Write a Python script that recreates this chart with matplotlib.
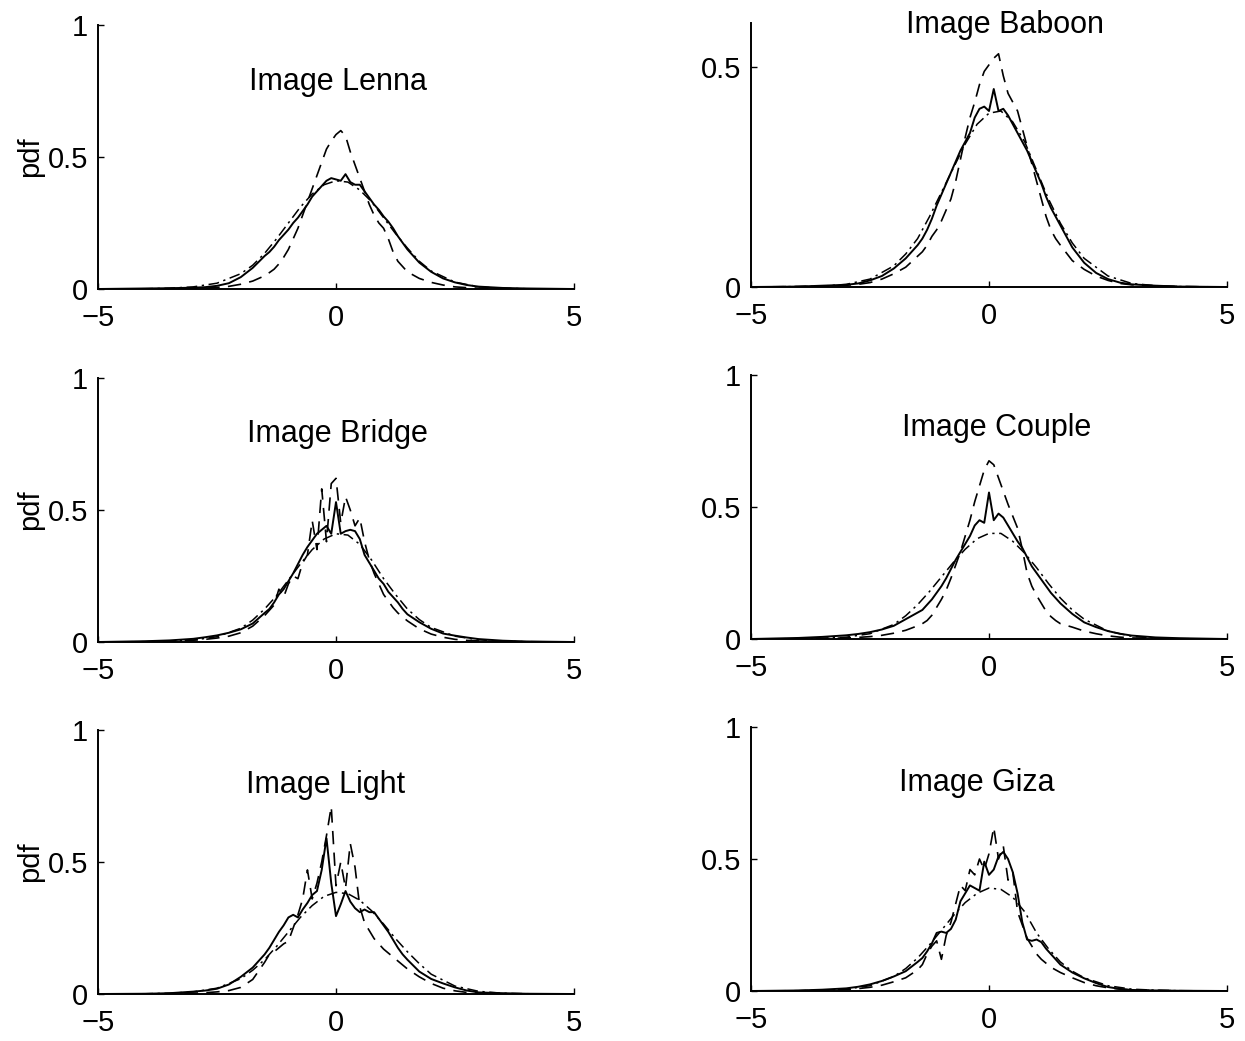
import matplotlib
matplotlib.use("Agg")
import matplotlib.pyplot as plt

plt.rcParams['font.family'] = ['Liberation Sans', 'DejaVu Sans']

# shared abscissa for the histogram (solid) and heavy-tailed model (dashed)
X = [-5, -4, -3.5, -3, -2.75, -2.5, -2.25, -2, -1.75, -1.5, -1.4, -1.3, -1.2, -1.1,
     -1.0, -0.9, -0.8, -0.7, -0.6, -0.5, -0.4, -0.3, -0.2, -0.1, 0.0, 0.1, 0.2, 0.3,
     0.4, 0.5, 0.6, 0.7, 0.8, 0.9, 1.0, 1.1, 1.2, 1.3, 1.4, 1.5, 1.75, 2, 2.25, 2.5,
     2.75, 3, 3.5, 4, 5]
# abscissa for the Gaussian fit (dash-dot)
XC = [-5, -4, -3.5, -3, -2.5, -2, -1.75, -1.5, -1.25, -1, -0.75, -0.5, -0.25, 0,
      0.25, 0.5, 0.75, 1, 1.25, 1.5, 1.75, 2, 2.5, 3, 3.5, 4, 5]

titles = ["Image Lenna", "Image Baboon", "Image Bridge", "Image Couple",
          "Image Light", "Image Giza"]

lenna_solid = [0, 0.002, 0.003, 0.005, 0.007, 0.012, 0.022, 0.045, 0.08, 0.125, 0.14, 0.16, 0.185, 0.205,
               0.225, 0.25, 0.27, 0.295, 0.32, 0.35, 0.37, 0.39, 0.41, 0.42, 0.415, 0.41, 0.435, 0.405,
               0.395, 0.395, 0.37, 0.345, 0.32, 0.3, 0.275, 0.255, 0.23, 0.2, 0.175, 0.15, 0.1, 0.065, 0.04, 0.025,
               0.015, 0.009, 0.004, 0.002, 0]
lenna_dash = [0, 0, 0.001, 0.002, 0.003, 0.006, 0.01, 0.018, 0.03, 0.05, 0.062, 0.075, 0.095, 0.12,
              0.15, 0.19, 0.23, 0.28, 0.33, 0.38, 0.43, 0.48, 0.53, 0.56, 0.585, 0.6, 0.58, 0.52,
              0.47, 0.42, 0.37, 0.32, 0.28, 0.25, 0.23, 0.19, 0.14, 0.105, 0.085, 0.065, 0.04, 0.025, 0.015, 0.008,
              0.005, 0.003, 0.001, 0, 0]
lenna_gauss = [0, 0.001, 0.003, 0.008, 0.022, 0.058, 0.09, 0.135, 0.19, 0.25, 0.31, 0.36, 0.395, 0.41,
               0.405, 0.375, 0.33, 0.27, 0.21, 0.155, 0.105, 0.068, 0.026, 0.008, 0.003, 0.001, 0]

baboon_solid = [0, 0.001, 0.003, 0.005, 0.008, 0.015, 0.025, 0.042, 0.065, 0.095, 0.11, 0.13, 0.155, 0.185,
                0.21, 0.235, 0.26, 0.285, 0.31, 0.33, 0.35, 0.385, 0.405, 0.41, 0.4, 0.45, 0.4, 0.405,
                0.39, 0.37, 0.35, 0.33, 0.31, 0.285, 0.26, 0.235, 0.205, 0.18, 0.16, 0.14, 0.09, 0.055, 0.032, 0.018,
                0.01, 0.006, 0.003, 0.001, 0]
baboon_dash = [0, 0.001, 0.002, 0.004, 0.006, 0.01, 0.018, 0.03, 0.045, 0.07, 0.08, 0.095, 0.115, 0.13,
               0.15, 0.175, 0.2, 0.24, 0.29, 0.34, 0.385, 0.42, 0.46, 0.49, 0.505, 0.52, 0.53, 0.48,
               0.44, 0.42, 0.4, 0.36, 0.32, 0.28, 0.24, 0.2, 0.16, 0.13, 0.11, 0.095, 0.06, 0.04, 0.025, 0.015,
               0.008, 0.005, 0.002, 0.001, 0]
baboon_gauss = [0, 0.001, 0.002, 0.006, 0.018, 0.048, 0.075, 0.11, 0.16, 0.215, 0.27, 0.325, 0.37, 0.395,
                0.4, 0.375, 0.33, 0.265, 0.2, 0.145, 0.1, 0.065, 0.025, 0.008, 0.003, 0.001, 0]

bridge_solid = [0, 0.003, 0.006, 0.012, 0.018, 0.025, 0.035, 0.048, 0.07, 0.11, 0.125, 0.15, 0.18, 0.2,
                0.23, 0.26, 0.295, 0.33, 0.36, 0.385, 0.41, 0.425, 0.44, 0.41, 0.53, 0.41, 0.42, 0.425,
                0.42, 0.39, 0.33, 0.3, 0.27, 0.24, 0.22, 0.19, 0.17, 0.15, 0.125, 0.105, 0.075, 0.05, 0.032, 0.024,
                0.017, 0.011, 0.005, 0.002, 0]
bridge_dash = [0, 0.001, 0.003, 0.007, 0.01, 0.015, 0.022, 0.035, 0.06, 0.1, 0.12, 0.14, 0.2, 0.17,
               0.22, 0.25, 0.24, 0.3, 0.33, 0.46, 0.35, 0.58, 0.38, 0.6, 0.62, 0.45, 0.55, 0.5,
               0.44, 0.47, 0.38, 0.31, 0.26, 0.22, 0.18, 0.155, 0.13, 0.11, 0.095, 0.08, 0.05, 0.03, 0.018, 0.01,
               0.006, 0.004, 0.002, 0.001, 0]
bridge_gauss = [0, 0.001, 0.003, 0.007, 0.02, 0.052, 0.083, 0.125, 0.175, 0.235, 0.295, 0.35, 0.39, 0.41,
                0.405, 0.37, 0.31, 0.24, 0.18, 0.125, 0.085, 0.055, 0.022, 0.008, 0.003, 0.001, 0]

couple_solid = [0, 0.004, 0.008, 0.014, 0.019, 0.026, 0.036, 0.05, 0.075, 0.1, 0.11, 0.13, 0.15, 0.175,
                0.2, 0.23, 0.265, 0.3, 0.33, 0.36, 0.39, 0.43, 0.45, 0.44, 0.555, 0.45, 0.475, 0.46,
                0.43, 0.4, 0.37, 0.345, 0.31, 0.275, 0.25, 0.225, 0.2, 0.175, 0.155, 0.135, 0.095, 0.063, 0.045, 0.03,
                0.02, 0.013, 0.006, 0.003, 0]
couple_dash = [0, 0.001, 0.002, 0.004, 0.006, 0.009, 0.014, 0.022, 0.033, 0.05, 0.058, 0.07, 0.09, 0.12,
               0.15, 0.185, 0.23, 0.28, 0.33, 0.39, 0.45, 0.52, 0.58, 0.64, 0.675, 0.66, 0.61, 0.56,
               0.51, 0.465, 0.42, 0.34, 0.25, 0.2, 0.165, 0.135, 0.105, 0.085, 0.07, 0.058, 0.045, 0.03, 0.02, 0.012,
               0.007, 0.004, 0.002, 0.001, 0]
couple_gauss = [0, 0.001, 0.003, 0.007, 0.02, 0.055, 0.088, 0.13, 0.18, 0.235, 0.29, 0.34, 0.38, 0.4,
                0.4, 0.37, 0.325, 0.27, 0.21, 0.155, 0.11, 0.075, 0.03, 0.01, 0.003, 0.001, 0]

light_solid = [0, 0.001, 0.003, 0.009, 0.013, 0.02, 0.036, 0.065, 0.1, 0.15, 0.175, 0.205, 0.235, 0.26,
               0.29, 0.3, 0.29, 0.32, 0.345, 0.375, 0.39, 0.47, 0.59, 0.42, 0.295, 0.34, 0.39, 0.35,
               0.325, 0.31, 0.32, 0.31, 0.31, 0.285, 0.26, 0.235, 0.205, 0.175, 0.15, 0.13, 0.085, 0.057, 0.04, 0.025,
               0.013, 0.006, 0.003, 0.001, 0]
light_dash = [0, 0, 0.001, 0.003, 0.005, 0.008, 0.013, 0.025, 0.055, 0.12, 0.15, 0.16, 0.175, 0.19,
              0.2, 0.25, 0.3, 0.36, 0.47, 0.36, 0.42, 0.5, 0.6, 0.71, 0.41, 0.5, 0.4, 0.57,
              0.48, 0.33, 0.27, 0.24, 0.21, 0.19, 0.17, 0.155, 0.14, 0.125, 0.11, 0.095, 0.065, 0.04, 0.022, 0.012,
              0.006, 0.003, 0.001, 0, 0]
light_gauss = [0, 0.001, 0.003, 0.008, 0.022, 0.058, 0.09, 0.13, 0.18, 0.235, 0.29, 0.335, 0.37, 0.385,
               0.38, 0.355, 0.315, 0.265, 0.21, 0.16, 0.115, 0.075, 0.03, 0.01, 0.003, 0.001, 0]

giza_solid = [0, 0.002, 0.005, 0.01, 0.016, 0.025, 0.038, 0.055, 0.075, 0.11, 0.125, 0.15, 0.18, 0.22,
              0.225, 0.22, 0.235, 0.27, 0.34, 0.37, 0.4, 0.39, 0.38, 0.49, 0.44, 0.46, 0.51, 0.527,
              0.5, 0.45, 0.37, 0.26, 0.195, 0.19, 0.195, 0.185, 0.16, 0.14, 0.12, 0.1, 0.07, 0.048, 0.03, 0.015,
              0.008, 0.004, 0.002, 0.001, 0]
giza_dash = [0, 0.001, 0.003, 0.006, 0.009, 0.014, 0.022, 0.035, 0.05, 0.08, 0.1, 0.14, 0.17, 0.19,
             0.12, 0.21, 0.26, 0.33, 0.4, 0.38, 0.46, 0.44, 0.5, 0.46, 0.52, 0.62, 0.5, 0.55,
             0.42, 0.45, 0.3, 0.25, 0.2, 0.17, 0.14, 0.12, 0.105, 0.09, 0.08, 0.07, 0.05, 0.032, 0.02, 0.012,
             0.007, 0.004, 0.002, 0.001, 0]
giza_gauss = [0, 0.001, 0.003, 0.007, 0.02, 0.055, 0.085, 0.125, 0.175, 0.23, 0.285, 0.335, 0.37, 0.39,
              0.385, 0.355, 0.3, 0.22, 0.16, 0.11, 0.075, 0.05, 0.02, 0.007, 0.003, 0.001, 0]

solids = [lenna_solid, baboon_solid, bridge_solid, couple_solid, light_solid, giza_solid]
dashes = [lenna_dash, baboon_dash, bridge_dash, couple_dash, light_dash, giza_dash]
gausses = [lenna_gauss, baboon_gauss, bridge_gauss, couple_gauss, light_gauss, giza_gauss]
ymax = [1, 0.6, 1, 1, 1, 1]
yticks = [[0, 0.5, 1], [0, 0.5], [0, 0.5, 1], [0, 0.5, 1], [0, 0.5, 1], [0, 0.5, 1]]
ytick_labels = [["0", "0.5", "1"], ["0", "0.5"], ["0", "0.5", "1"], ["0", "0.5", "1"],
                ["0", "0.5", "1"], ["0", "0.5", "1"]]
xticks = [-5, 0, 5]
xtick_labels = ["\u22125", "0", "5"]
title_x = [0.04, 0.34, 0.04, 0.17, -0.21, -0.25]
title_y = [0.755, 0.577, 0.758, 0.77, 0.76, 0.757]

W, H = 1245, 1041
fig = plt.figure(figsize=(W / 100, H / 100), dpi=100)

# axes boxes in pixels: left, bottom(from top)
boxes = [(98, 289), (751, 287), (98, 642), (751, 639), (98, 994), (751, 991)]
aw, ah = 476, 264

FS = 21
for i in range(6):
    l, b = boxes[i]
    ax = fig.add_axes([l / W, 1 - b / H, aw / W, ah / H])
    ax.plot(XC, gausses[i], color='black', lw=1.1, linestyle=(0, (7, 3, 1.5, 3)))
    ax.plot(X, dashes[i], color='black', lw=1.2, linestyle=(0, (8, 5)))
    ax.plot(X, solids[i], color='black', lw=1.4, linestyle='-')
    ax.set_xlim(-5, 5)
    ax.set_ylim(0, ymax[i])
    for s in ['top', 'right']:
        ax.spines[s].set_visible(False)
    for s in ['left', 'bottom']:
        ax.spines[s].set_linewidth(1.4)
    ax.set_xticks(xticks)
    ax.set_xticklabels(xtick_labels)
    ax.set_yticks(yticks[i])
    ax.set_yticklabels(ytick_labels[i])
    ax.tick_params(axis='both', direction='in', length=4, width=1.0, labelsize=FS)
    ax.tick_params(axis='x', pad=11)
    ax.tick_params(axis='y', pad=7)
    ax.text(title_x[i], title_y[i], titles[i], ha='center', va='baseline', fontsize=22)
    if i % 2 == 0:
        ax.set_ylabel("pdf", fontsize=FS, labelpad=3)

fig.savefig("out.png", dpi=100)
